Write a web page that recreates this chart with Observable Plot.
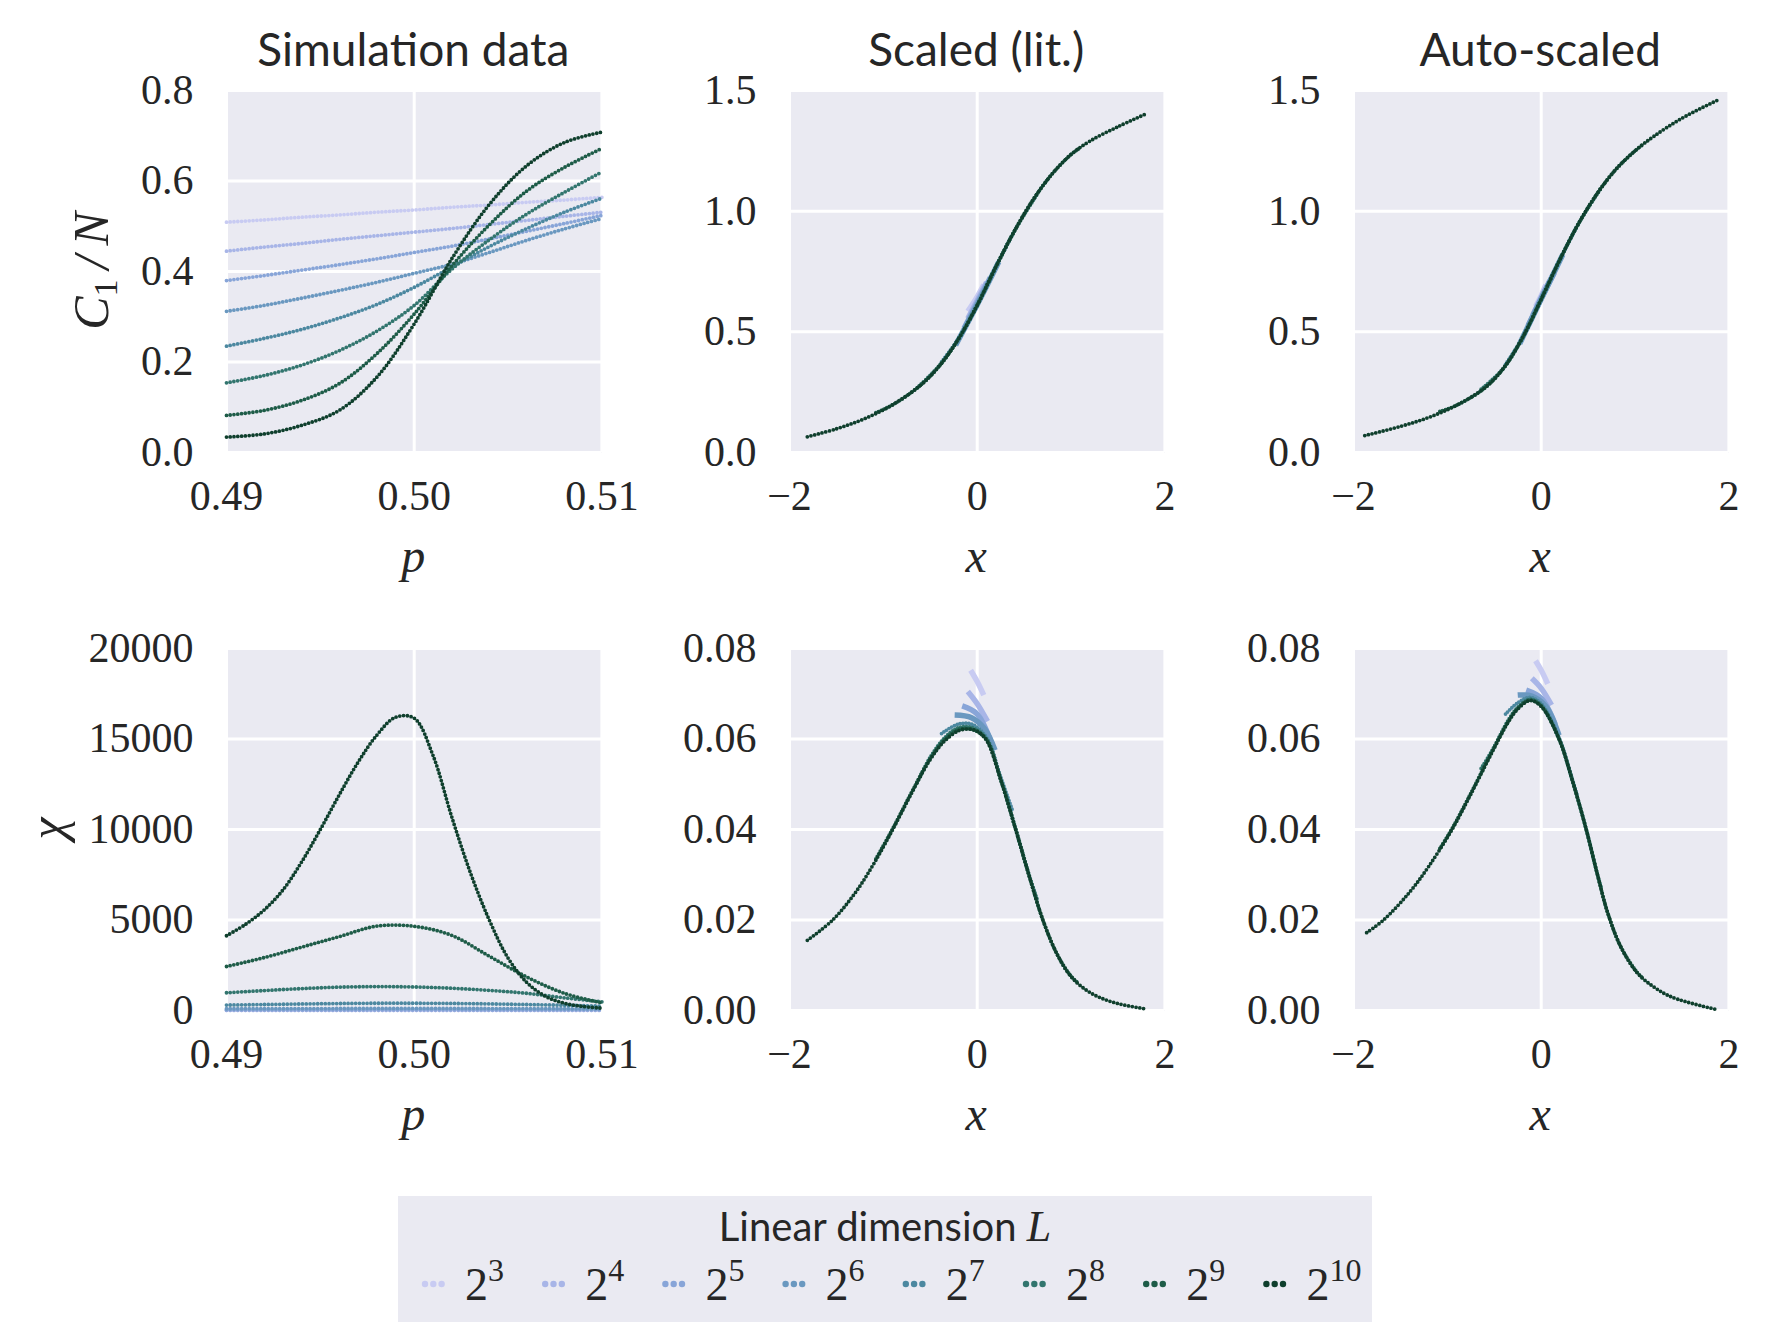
<!DOCTYPE html>
<html><head><meta charset="utf-8">
<script src="https://cdn.jsdelivr.net/npm/d3@7"></script>
<script src="https://cdn.jsdelivr.net/npm/@observablehq/plot@0.6"></script>
<style>
html,body{margin:0;padding:0;background:#fff;}
#fig{position:relative;width:1769px;height:1344px;background:#fff;overflow:hidden;}
.cell{position:absolute;}
#overlay{position:absolute;left:0;top:0;pointer-events:none;}
</style>
</head><body>
<div id="fig"></div>
<script>
// ---------------- data ----------------
const exponents = [3, 4, 5, 6, 7, 8, 9, 10];
const colors = ["#c8cbf2", "#a8b5e7", "#88a5d8", "#6a98c0", "#4c88a0", "#32756e", "#1e5c48", "#0f3f2d"];
const titles = ["Simulation data", "Scaled (lit.)", "Auto-scaled"];

const pGrid = [0.490, 0.492, 0.494, 0.496, 0.498, 0.500, 0.502, 0.504, 0.506, 0.508, 0.510];
const pGridFine = [0.490, 0.491, 0.492, 0.493, 0.494, 0.495, 0.496, 0.497, 0.498, 0.499, 0.500,
                   0.501, 0.502, 0.503, 0.504, 0.505, 0.506, 0.507, 0.508, 0.509, 0.510];

// C1/N vs p (one row per L = 2^3 ... 2^10, on pGrid)
const simC1N = [
  [0.509, 0.514, 0.520, 0.525, 0.531, 0.536, 0.542, 0.547, 0.553, 0.558, 0.564],
  [0.445, 0.454, 0.462, 0.471, 0.479, 0.487, 0.495, 0.504, 0.513, 0.522, 0.531],
  [0.380, 0.391, 0.403, 0.415, 0.428, 0.442, 0.456, 0.472, 0.489, 0.506, 0.524],
  [0.312, 0.325, 0.341, 0.358, 0.376, 0.396, 0.416, 0.442, 0.469, 0.494, 0.517],
  [0.235, 0.252, 0.272, 0.297, 0.327, 0.365, 0.410, 0.455, 0.495, 0.531, 0.562],
  [0.154, 0.170, 0.193, 0.225, 0.268, 0.325, 0.405, 0.470, 0.527, 0.575, 0.620],
  [0.082, 0.093, 0.115, 0.152, 0.218, 0.306, 0.412, 0.503, 0.578, 0.630, 0.672],
  [0.034, 0.041, 0.060, 0.093, 0.166, 0.284, 0.428, 0.548, 0.634, 0.685, 0.708]
];

// chi vs p for L = 2^3 ... 2^9 (on pGrid)
const simChi = [
  [3.0, 3.0, 3.1, 3.1, 3.2, 3.2, 3.2, 3.1, 3.1, 3.0, 3.0],
  [9.6, 9.8, 10.0, 10.1, 10.2, 10.2, 10.2, 10.1, 10.0, 9.8, 9.6],
  [30, 31, 32, 33, 34, 34, 34, 33, 32, 31, 30],
  [95, 100, 105, 109, 112, 113, 112, 108, 103, 96, 88],
  [300, 330, 360, 385, 400, 400, 390, 365, 330, 290, 240],
  [980, 1100, 1210, 1290, 1320, 1300, 1230, 1110, 950, 700, 480],
  [2430, 2920, 3500, 4080, 4660, 4650, 4150, 3000, 1850, 950, 420]
];
// chi vs p for L = 2^10 (on pGridFine)
const simChiL10 = [4130, 4750, 5550, 6650, 8200, 10000, 11900, 13700, 15200, 16200, 16150,
                   14100, 10700, 7600, 5000, 2900, 1550, 780, 400, 220, 130];

// scaled C1/N (literature exponents): [x, y] per L
const litC = [
  [[-0.10, 0.585], [0, 0.645], [0.07, 0.695]],
  [[-0.10, 0.555], [0, 0.630], [0.10, 0.705]],
  [[-0.14, 0.515], [0, 0.620], [0.14, 0.725]],
  [[-0.23, 0.445], [0, 0.612], [0.23, 0.790]],
  [[-0.38, 0.375], [-0.2, 0.472], [0, 0.611], [0.2, 0.771], [0.38, 0.905]],
  [[-0.64, 0.268], [-0.4, 0.362], [-0.2, 0.471], [0, 0.610], [0.2, 0.770], [0.4, 0.920], [0.64, 1.070]],
  [[-1.08, 0.165], [-0.9, 0.198], [-0.6, 0.280], [-0.4, 0.360], [-0.2, 0.470], [0, 0.610], [0.2, 0.770],
   [0.4, 0.920], [0.6, 1.050], [0.8, 1.155], [1.0, 1.235], [1.08, 1.258]],
  [[-1.81, 0.065], [-1.5, 0.098], [-1.2, 0.140], [-0.9, 0.198], [-0.6, 0.280], [-0.4, 0.360], [-0.2, 0.470],
   [0, 0.610], [0.2, 0.770], [0.4, 0.920], [0.6, 1.050], [0.8, 1.155], [1.0, 1.235], [1.2, 1.290],
   [1.5, 1.350], [1.81, 1.405]]
];

// auto-scaled C1/N: [x, y] per L
const autoC = [
  [[-0.06, 0.605], [0, 0.650], [0.05, 0.695]],
  [[-0.09, 0.570], [0, 0.642], [0.09, 0.712]],
  [[-0.14, 0.525], [0, 0.638], [0.14, 0.745]],
  [[-0.23, 0.450], [0, 0.636], [0.23, 0.820]],
  [[-0.38, 0.365], [-0.2, 0.476], [0, 0.635], [0.2, 0.800], [0.38, 0.936]],
  [[-0.64, 0.262], [-0.4, 0.350], [-0.2, 0.475], [0, 0.635], [0.2, 0.800], [0.4, 0.950], [0.64, 1.097]],
  [[-1.08, 0.170], [-0.9, 0.196], [-0.6, 0.268], [-0.4, 0.350], [-0.2, 0.475], [0, 0.635], [0.2, 0.800],
   [0.4, 0.950], [0.6, 1.075], [0.8, 1.175], [1.0, 1.250], [1.08, 1.275]],
  [[-1.88, 0.070], [-1.5, 0.108], [-1.2, 0.145], [-0.9, 0.196], [-0.6, 0.268], [-0.4, 0.350], [-0.2, 0.475],
   [0, 0.635], [0.2, 0.800], [0.4, 0.950], [0.6, 1.075], [0.8, 1.175], [1.0, 1.250], [1.2, 1.310],
   [1.5, 1.385], [1.88, 1.460]]
];

// scaled chi (literature exponents): [x, y] per L
const litChi = [
  [[-0.07, 0.0752], [0, 0.0727], [0.07, 0.0697]],
  [[-0.10, 0.0705], [0, 0.0678], [0.11, 0.0639]],
  [[-0.16, 0.0673], [0, 0.0655], [0.15, 0.0592]],
  [[-0.24, 0.0653], [-0.06, 0.0647], [0.08, 0.0622], [0.19, 0.0575]],
  [[-0.38, 0.0612], [-0.2, 0.0633], [-0.05, 0.0632], [0.1, 0.0603], [0.25, 0.0516], [0.38, 0.0440]],
  [[-0.64, 0.0504], [-0.5, 0.0560], [-0.35, 0.0602], [-0.2, 0.0625], [-0.05, 0.0625], [0.1, 0.0600],
   [0.25, 0.0512], [0.41, 0.0402], [0.55, 0.0302], [0.64, 0.0245]],
  [[-1.08, 0.0335], [-0.9, 0.0402], [-0.7, 0.0482], [-0.5, 0.0557], [-0.35, 0.0598], [-0.2, 0.0621],
   [-0.05, 0.0621], [0.1, 0.0598], [0.25, 0.0511], [0.41, 0.0400], [0.55, 0.0300], [0.7, 0.0200],
   [0.85, 0.0125], [1.0, 0.0076], [1.08, 0.0060]],
  [[-1.81, 0.0155], [-1.54, 0.0200], [-1.3, 0.0260], [-1.1, 0.0325], [-0.9, 0.0400], [-0.7, 0.0480],
   [-0.5, 0.0555], [-0.35, 0.0595], [-0.2, 0.0618], [-0.1, 0.0622], [0, 0.0617], [0.1, 0.0597],
   [0.25, 0.0510], [0.41, 0.0400], [0.55, 0.0300], [0.7, 0.0200], [0.85, 0.0125], [1.0, 0.0075],
   [1.2, 0.0040], [1.45, 0.0018], [1.81, 0.0003]]
];

// auto-scaled chi: [x, y] per L
const autoChi = [
  [[-0.06, 0.0773], [0, 0.0752], [0.07, 0.0722]],
  [[-0.10, 0.0734], [0, 0.0712], [0.11, 0.0675]],
  [[-0.16, 0.0708], [0, 0.0690], [0.15, 0.0632]],
  [[-0.25, 0.0697], [-0.1, 0.0695], [0.05, 0.0672], [0.19, 0.0608]],
  [[-0.38, 0.0655], [-0.25, 0.0680], [-0.12, 0.0692], [0, 0.0678], [0.19, 0.0603], [0.33, 0.0512], [0.38, 0.0478]],
  [[-0.64, 0.0535], [-0.52, 0.0576], [-0.35, 0.0642], [-0.25, 0.0670], [-0.12, 0.0688], [0, 0.0674],
   [0.19, 0.0601], [0.33, 0.0510], [0.48, 0.0400], [0.6, 0.0300], [0.64, 0.0272]],
  [[-1.08, 0.0358], [-0.95, 0.0402], [-0.75, 0.0480], [-0.52, 0.0574], [-0.35, 0.0639], [-0.25, 0.0668],
   [-0.12, 0.0686], [0, 0.0673], [0.19, 0.0600], [0.33, 0.0510], [0.48, 0.0400], [0.6, 0.0300],
   [0.71, 0.0215], [0.85, 0.0140], [1.02, 0.0085], [1.08, 0.0072]],
  [[-1.86, 0.0172], [-1.68, 0.0200], [-1.4, 0.0262], [-1.2, 0.0318], [-0.95, 0.0400], [-0.75, 0.0478],
   [-0.52, 0.0572], [-0.35, 0.0638], [-0.25, 0.0666], [-0.12, 0.0685], [0, 0.0672], [0.19, 0.0600],
   [0.33, 0.0510], [0.48, 0.0400], [0.6, 0.0300], [0.71, 0.0215], [0.85, 0.0140], [1.02, 0.0084],
   [1.2, 0.0052], [1.4, 0.0029], [1.85, 0.0003]]
];

// tick values
const pTicks = [0.49, 0.50, 0.51];
const xScaledTicks = [-2, 0, 2];
const c1nTicks = [0, 0.2, 0.4, 0.6, 0.8];
const cScaledTicks = [0, 0.5, 1.0, 1.5];
const chiTicks = [0, 5000, 10000, 15000, 20000];
const chiScaledTicks = [0, 0.02, 0.04, 0.06, 0.08];

// ---------------- build tidy rows ----------------
const rowsFromGrid = (grid, vals, k) => vals.map((v, j) => ({x: grid[j], y: v, L: exponents[k]}));
const rowsFromPairs = (pairs, k) => pairs.map(([x, y]) => ({x, y, L: exponents[k]}));

const seriesP1 = simC1N.map((vals, k) => rowsFromGrid(pGrid, vals, k));
const seriesP4 = simChi.map((vals, k) => rowsFromGrid(pGrid, vals, k))
  .concat([rowsFromGrid(pGridFine, simChiL10, 7)]);
const seriesP2 = litC.map(rowsFromPairs);
const seriesP3 = autoC.map(rowsFromPairs);
const seriesP5 = litChi.map(rowsFromPairs);
const seriesP6 = autoChi.map(rowsFromPairs);

// ---------------- layout ----------------
const fig = document.getElementById("fig");
const INK = "#262626";
const SERIF = "'Liberation Serif', 'DejaVu Serif', serif";
const SANS = "Lato, 'Open Sans', sans-serif";

const colX = [225.6, 788.5, 1352.5];
const rowY = [90, 647.5];
const PW = 375.4, PH = 362;

const minus = d => d < 0 ? "\u2212" + Math.abs(d) : String(d);

function makePanel(series, left, top, xDomain, xTicks, xFmt, yDomain, yTicks, yFmt, scaled) {
  const ml = 240, mr = 60, mt = 40, mb = 110;
  const marks = [
    Plot.frame({fill: "#EAEAF2", stroke: "none"}),
    Plot.gridX(xTicks, {stroke: "white", strokeOpacity: 1, strokeWidth: 3}),
    Plot.gridY(yTicks, {stroke: "white", strokeOpacity: 1, strokeWidth: 3}),
    Plot.axisX(xTicks, {tickFormat: xFmt, tickSize: 0, tickPadding: 28, label: null, fontSize: 42}),
    Plot.axisY(yTicks, {tickFormat: yFmt, tickSize: 0, tickPadding: 33, label: null, fontSize: 42})
  ];
  series.forEach((rows, k) => {
    const solid = scaled && k <= 3;
    marks.push(Plot.line(rows, {
      x: "x", y: "y", stroke: "L", curve: "catmull-rom",
      strokeWidth: solid ? 5.5 : 3.8,
      strokeDasharray: solid ? null : (scaled && k < 7 ? "0 3" : "0 3.8"),
      strokeLinecap: solid ? "butt" : "round",
      strokeOpacity: 1
    }));
  });
  const svg = Plot.plot({
    width: PW + ml + mr, height: PH + mt + mb,
    marginLeft: ml, marginRight: mr, marginTop: mt, marginBottom: mb,
    x: {domain: xDomain},
    y: {domain: yDomain},
    color: {type: "ordinal", domain: exponents, range: colors},
    style: {fontFamily: SERIF, fontSize: "42px", color: INK, background: "transparent", overflow: "visible", maxWidth: "none"},
    marks
  });
  const cell = document.createElement("div");
  cell.className = "cell";
  cell.style.left = (left - ml) + "px";
  cell.style.top = (top - mt) + "px";
  cell.appendChild(svg);
  fig.appendChild(cell);
}

const f2 = d => d.toFixed(2), f1 = d => d.toFixed(1), fi = d => String(d);
makePanel(seriesP1, colX[0], rowY[0], [0.49, 0.51], pTicks, f2, [0, 0.8], c1nTicks, f1, false);
makePanel(seriesP2, colX[1], rowY[0], [-2, 2], xScaledTicks, minus, [0, 1.5], cScaledTicks, f1, true);
makePanel(seriesP3, colX[2], rowY[0], [-2, 2], xScaledTicks, minus, [0, 1.5], cScaledTicks, f1, true);
makePanel(seriesP4, colX[0], rowY[1], [0.49, 0.51], pTicks, f2, [0, 20000], chiTicks, fi, false);
makePanel(seriesP5, colX[1], rowY[1], [-2, 2], xScaledTicks, minus, [0, 0.08], chiScaledTicks, f2, true);
makePanel(seriesP6, colX[2], rowY[1], [-2, 2], xScaledTicks, minus, [0, 0.08], chiScaledTicks, f2, true);

// ---------------- titles, axis labels, legend ----------------
const ov = d3.select(fig).append("svg").attr("id", "overlay")
  .attr("width", 1769).attr("height", 1344);

titles.forEach((t, i) => {
  ov.append("text").attr("x", colX[i] + PW / 2).attr("y", 66)
    .attr("text-anchor", "middle").attr("font-family", SANS).attr("font-size", 46)
    .attr("fill", INK).text(t);
});

const xLabels = [["p", "x", "x"], ["p", "x", "x"]];
[0, 1].forEach(r => colX.forEach((cx, i) => {
  ov.append("text").attr("x", cx + PW / 2).attr("y", rowY[r] + 482)
    .attr("text-anchor", "middle").attr("font-family", SERIF).attr("font-style", "italic")
    .attr("font-size", 48).attr("fill", INK).text(xLabels[r][i]);
}));

// y labels
const yl1 = ov.append("text").attr("transform", `translate(108,${rowY[0] + PH / 2}) rotate(-90)`)
  .attr("text-anchor", "middle").attr("font-family", SERIF).attr("font-style", "italic")
  .attr("font-size", 50).attr("fill", INK);
yl1.append("tspan").text("C");
yl1.append("tspan").attr("font-size", 34).attr("font-style", "normal").attr("dy", 9).text("1");
yl1.append("tspan").attr("dy", -9).text("\u2009/\u2009N");

ov.append("text").attr("transform", `translate(64,${rowY[1] + PH / 2}) rotate(-90)`)
  .attr("text-anchor", "middle").attr("font-family", SERIF).attr("font-style", "italic")
  .attr("font-size", 50).attr("fill", INK).text("\u03c7");

// legend
const lg = ov.append("g");
lg.append("rect").attr("x", 398).attr("y", 1196).attr("width", 974).attr("height", 126)
  .attr("fill", "#EAEAF2");
const lt = lg.append("text").attr("x", 885).attr("y", 1241).attr("text-anchor", "middle")
  .attr("font-family", SANS).attr("font-size", 40).attr("fill", INK);
lt.append("tspan").text("Linear dimension ");
lt.append("tspan").attr("font-family", SERIF).attr("font-style", "italic").attr("font-size", 44).text("L");

exponents.forEach((e, k) => {
  const x0 = 425 + k * 120.2;
  [0, 8.3, 16.6].forEach(dx => {
    lg.append("circle").attr("cx", x0 + dx).attr("cy", 1284).attr("r", 3.2).attr("fill", colors[k]);
  });
  const t = lg.append("text").attr("x", x0 + 40).attr("y", 1300)
    .attr("font-family", SERIF).attr("font-size", 46).attr("fill", INK);
  t.append("tspan").text("2");
  t.append("tspan").attr("font-size", 32).attr("dy", -19).text(String(e));
});
</script>
</body></html>
